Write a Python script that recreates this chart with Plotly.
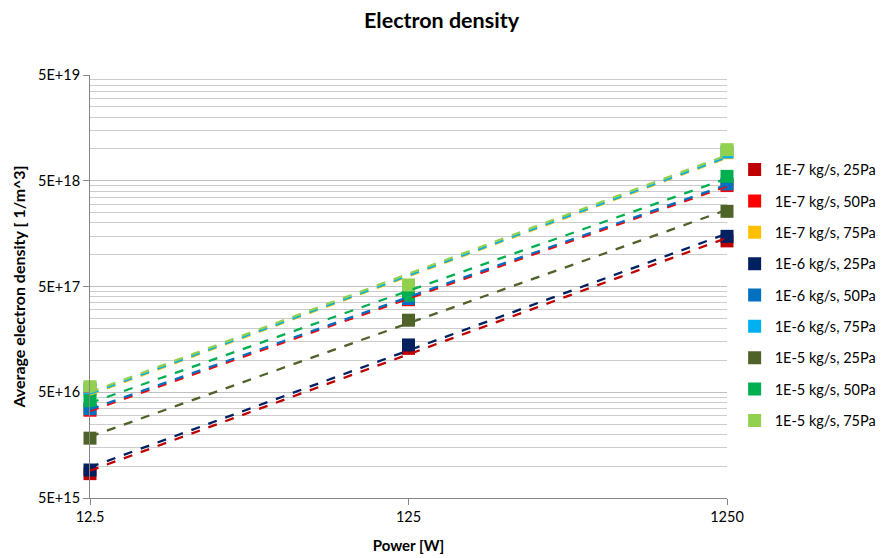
import numpy as np
import plotly.graph_objects as go

# ---- data ----
power = [12.5, 125, 1250]
series_names = [
    "1E-7 kg/s, 25Pa", "1E-7 kg/s, 50Pa", "1E-7 kg/s, 75Pa",
    "1E-6 kg/s, 25Pa", "1E-6 kg/s, 50Pa", "1E-6 kg/s, 75Pa",
    "1E-5 kg/s, 25Pa", "1E-5 kg/s, 50Pa", "1E-5 kg/s, 75Pa",
]
ne_1e7_25 = [8.5e15, 1.30e17, 1.35e18]
ne_1e7_50 = [3.38e16, 3.75e17, 4.5e18]
ne_1e7_75 = [5.3e16, 5.0e17, 9.2e18]
ne_1e6_25 = [9.2e15, 1.40e17, 1.49e18]
ne_1e6_50 = [3.5e16, 3.85e17, 4.66e18]
ne_1e6_75 = [5.4e16, 5.1e17, 9.35e18]
ne_1e5_25 = [1.84e16, 2.40e17, 2.57e18]
ne_1e5_50 = [4.15e16, 4.15e17, 5.5e18]
ne_1e5_75 = [5.64e16, 5.17e17, 9.84e18]
series_values = [ne_1e7_25, ne_1e7_50, ne_1e7_75, ne_1e6_25, ne_1e6_50,
                 ne_1e6_75, ne_1e5_25, ne_1e5_50, ne_1e5_75]

y_tick_vals = [5e15, 5e16, 5e17, 5e18, 5e19]
y_tick_text = ["5E+15", "5E+16", "5E+17", "5E+18", "5E+19"]
x_tick_vals = [12.5, 125, 1250]
x_tick_text = ["12.5", "125", "1250"]

# ---- styles ----
colors = ["#C00000", "#FF0000", "#FFC000", "#002060", "#0070C0",
          "#00B0F0", "#4F6228", "#00B050", "#92D050"]
FONT = "Lato, 'Open Sans', sans-serif"

fig = go.Figure()

for i, (name, vals) in enumerate(zip(series_names, series_values)):
    fig.add_trace(go.Scatter(
        x=power, y=vals, mode="markers", name=name,
        legendgroup=f"g{i}", cliponaxis=False,
        marker=dict(symbol="square", size=13, color=colors[i], line=dict(width=0)),
    ))

# power-law trendlines (least squares in log-log space)
lx = np.log10(power)
xfit = np.array([power[0], power[-1]])
for i, vals in enumerate(series_values):
    b, a = np.polyfit(lx, np.log10(vals), 1)
    yfit = 10 ** (a + b * np.log10(xfit))
    fig.add_trace(go.Scatter(
        x=xfit.tolist(), y=yfit.tolist(), mode="lines", showlegend=False, hoverinfo="skip",
        cliponaxis=False,
        line=dict(color=colors[i], width=2.3, dash="dash"),
    ))

minor_vals = []
for d in range(15, 19):
    for k in range(2, 10):
        minor_vals.append(float(5 * k) * 10.0 ** d)

fig.update_layout(
    width=883, height=558,
    paper_bgcolor="white", plot_bgcolor="white",
    margin=dict(l=90, r=156, t=75, b=60, autoexpand=False),
    font=dict(family=FONT, size=14, color="#000000"),
    title=dict(text="<b>Electron density</b>", x=0.5, xanchor="center",
               y=0.963, yanchor="middle",
               font=dict(family=FONT, size=21.5, color="#000000")),
    showlegend=True,
    legend=dict(x=1.012, xanchor="left", y=0.814, yanchor="top",
                font=dict(family=FONT, size=14.5, color="#000000"),
                tracegroupgap=9.5, traceorder="grouped",
                itemwidth=30, bgcolor="rgba(0,0,0,0)"),
)

fig.update_xaxes(
    type="log", range=[float(np.log10(12.5)), float(np.log10(1250))],
    tickmode="array", tickvals=x_tick_vals, ticktext=x_tick_text,
    showgrid=False, zeroline=False, automargin=False,
    showline=True, linecolor="#868686", linewidth=1,
    ticks="outside", ticklen=6, tickcolor="#868686",
    tickfont=dict(family=FONT, size=14.5),
    title=dict(text="<b>Power [W]</b>", font=dict(family=FONT, size=15), standoff=16),
)
fig.update_yaxes(
    type="log", range=[float(np.log10(5e15)), float(np.log10(5e19))],
    tickmode="array", tickvals=y_tick_vals, ticktext=y_tick_text,
    showgrid=True, gridcolor="#BFBFBF", gridwidth=1, zeroline=False, automargin=False,
    showline=True, linecolor="#868686", linewidth=1,
    ticks="outside", ticklen=6, tickcolor="#868686",
    tickfont=dict(family=FONT, size=14.5),
    minor=dict(tickmode="array", tickvals=minor_vals, showgrid=True,
               gridcolor="#CCCCCC", gridwidth=1, ticks=""),
    title=dict(text="<b>Average electron density [ 1/m^3]</b>",
               font=dict(family=FONT, size=16), standoff=8),
)

fig.write_html("out.html")
